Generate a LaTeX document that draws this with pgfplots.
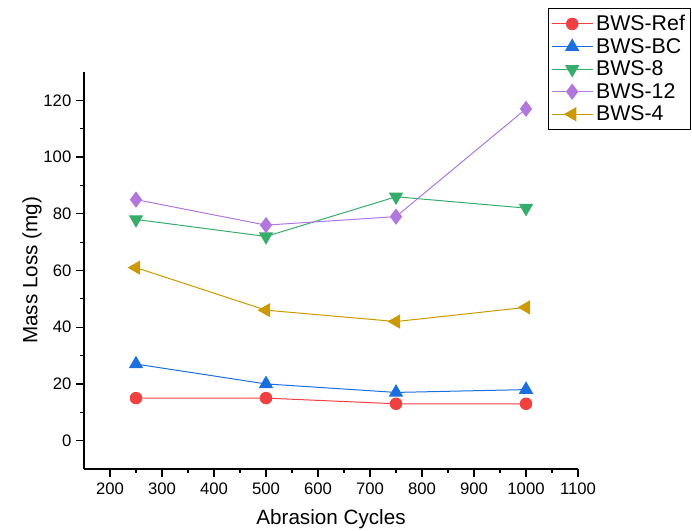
\documentclass[border=0pt]{standalone}
\usepackage{pgfplots}
\pgfplotsset{compat=1.18}
\usepackage{fontspec}
\setmainfont{Liberation Sans}

\definecolor{oRed}{HTML}{F14040}
\definecolor{oBlue}{HTML}{1A6FDF}
\definecolor{oGreen}{HTML}{37AD6B}
\definecolor{oPurple}{HTML}{B177DE}
\definecolor{oGold}{HTML}{CC9900}

\begin{document}
\begin{tikzpicture}
\useasboundingbox (0,0) rectangle (519pt,398.25pt);
\begin{axis}[
    scale only axis,
    width=370.5pt, height=297.75pt,
    at={(63pt,46.5pt)}, anchor=south west,
    xmin=150, xmax=1100,
    ymin=-10, ymax=130,
    xtick={200,300,...,1100},
    ytick={0,20,...,120},
    minor x tick num=1,
    minor y tick num=1,
    axis lines=left,
    axis line style={-, line width=0.9pt},
    tick style={line width=0.9pt, black},
    tick align=outside,
    major tick length=6pt,
    minor tick length=3pt,
    /pgf/number format/assume math mode=true,
    /pgf/number format/1000 sep={},
    tick label style={font=\fontsize{12.5}{14}\selectfont},
    xticklabel style={yshift=-1pt},
    label style={font=\fontsize{15.5}{18}\selectfont},
    xlabel={Abrasion Cycles},
    ylabel={Mass Loss (mg)},
    xlabel style={yshift=-4pt},
    ylabel style={yshift=-5.5pt},
    legend style={
        at={(0.939,1.161)}, anchor=north west,
        draw=black, line width=0.75pt,
        font=\fontsize{16}{18}\selectfont,
        row sep=0.2pt,
        inner xsep=2pt, inner ysep=3pt,
        cells={anchor=west},
    },
    legend cell align=left,
    legend image code/.code={
        \draw[#1, mark=none] (0pt,0pt) -- (31pt,0pt);
        \draw[#1, only marks] plot coordinates {(15.5pt,0pt)};
    },
    every axis plot/.append style={line width=0.75pt},
    clip=false,
]
\addplot[color=oRed, mark=*, mark size=4.3pt]
    coordinates {(250,15) (500,15) (750,13) (1000,13)};
\addlegendentry{BWS-Ref}
\addplot[color=oBlue, mark=triangle*, mark size=5.5pt]
    coordinates {(250,27) (500,20) (750,17) (1000,18)};
\addlegendentry{BWS-BC}
\addplot[color=oGreen, mark=triangle*, mark size=5.5pt, mark options={rotate=180}]
    coordinates {(250,78) (500,72) (750,86) (1000,82)};
\addlegendentry{BWS-8}
\addplot[color=oPurple, mark=diamond*, mark size=5.5pt]
    coordinates {(250,85) (500,76) (750,79) (1000,117)};
\addlegendentry{BWS-12}
\addplot[color=oGold, mark=triangle*, mark size=5.5pt, mark options={rotate=90}]
    coordinates {(250,61) (500,46) (750,42) (1000,47)};
\addlegendentry{BWS-4}
\end{axis}
\end{tikzpicture}
\end{document}
